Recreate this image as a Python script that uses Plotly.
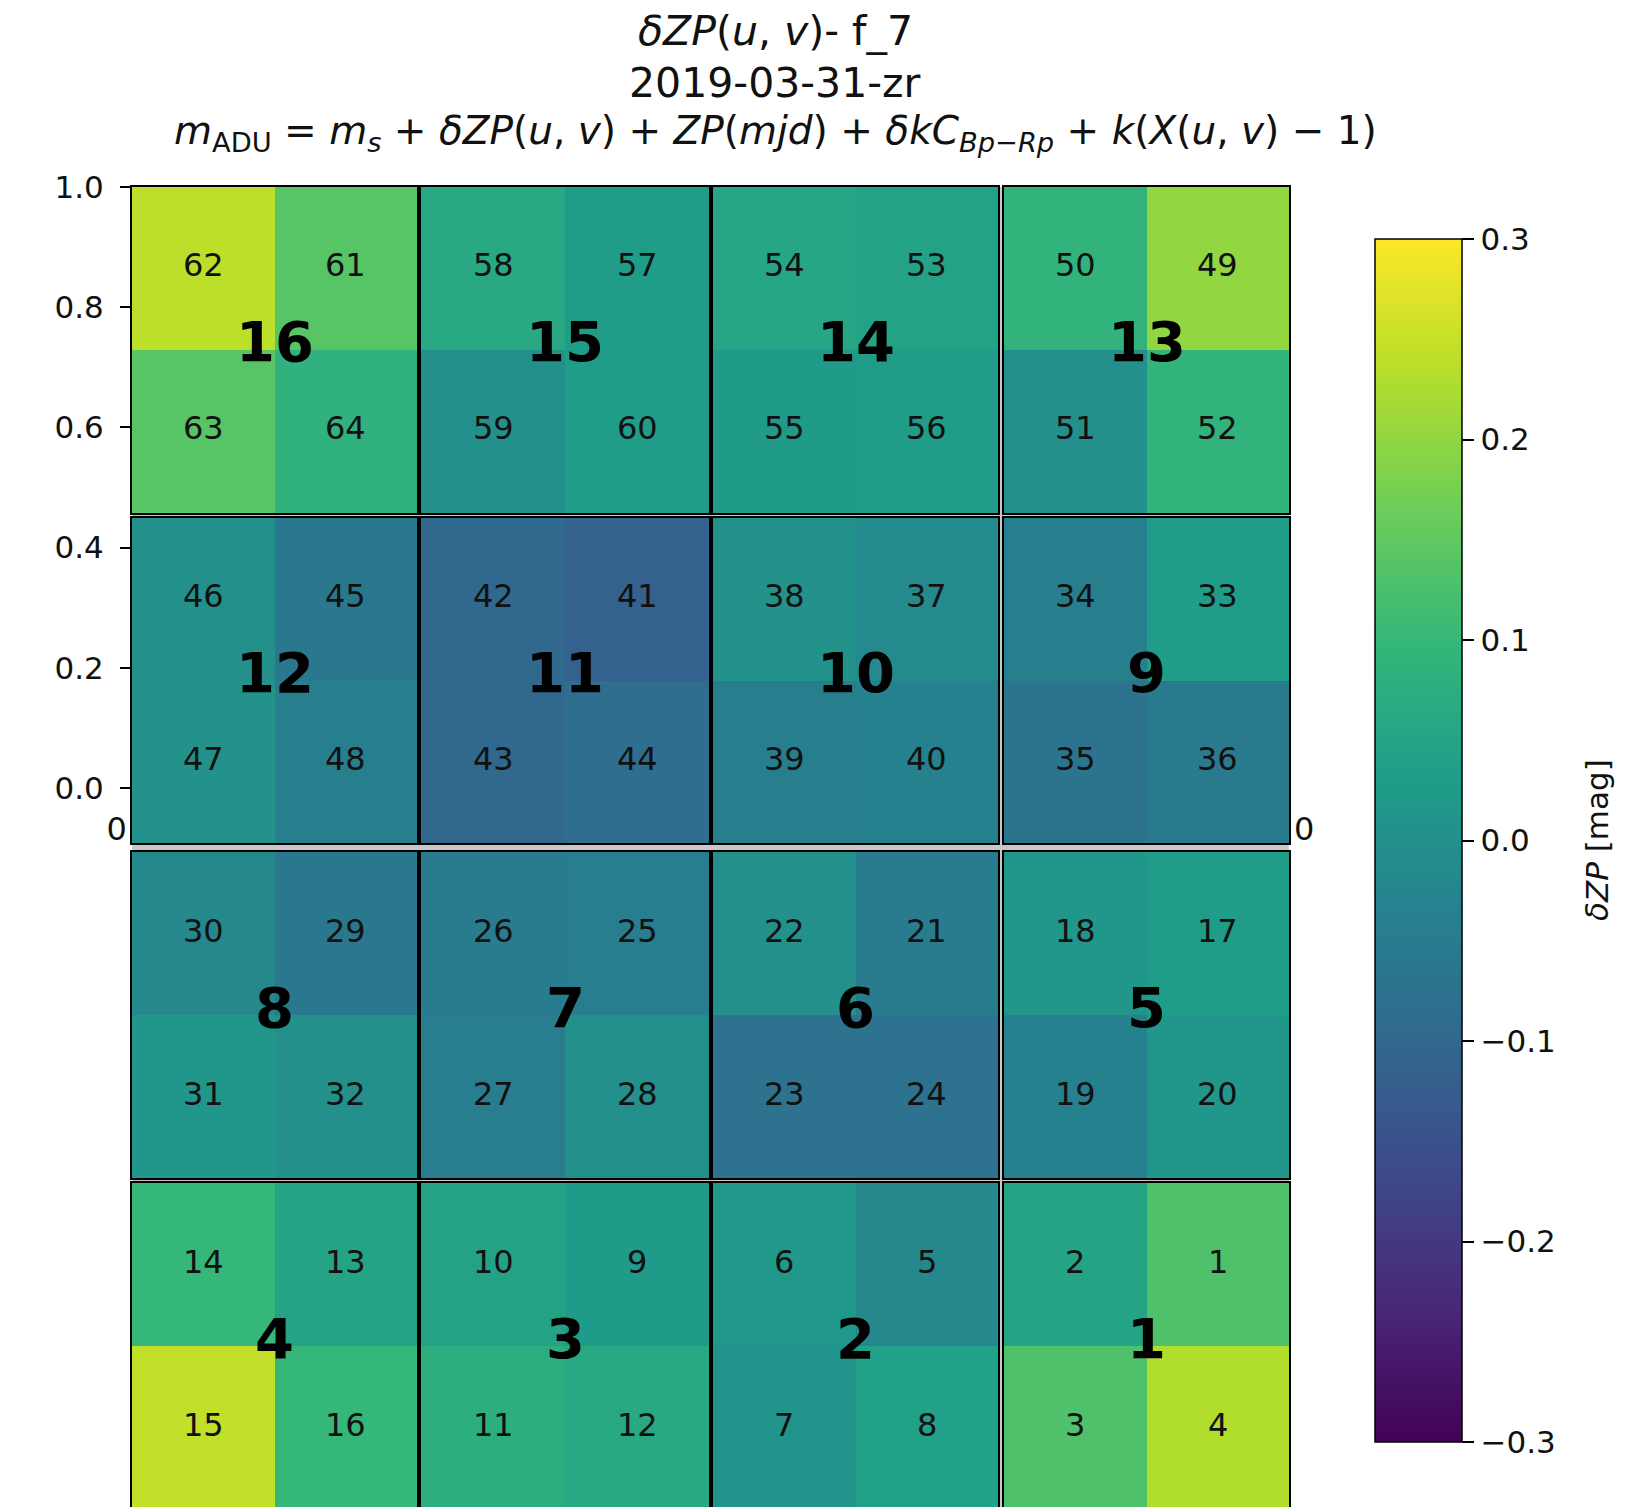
import plotly.graph_objects as go

# ---------------- data ----------------
# CCD layout on the focal plane (top row first, left to right)
ccd_grid = [[16, 15, 14, 13],
            [12, 11, 10, 9],
            [8, 7, 6, 5],
            [4, 3, 2, 1]]

# amplifier (quadrant) numbering inside CCD n: amp = 4*(n-1) + offset
quad_offset = {"TR": 1, "TL": 2, "BL": 3, "BR": 4}

# delta ZP per amplifier (amp 1 .. 64), mag
delta_zp = [
    0.13, 0.05, 0.13, 0.23,       # 1-4
    -0.02, 0.02, 0.01, 0.04,      # 5-8
    0.025, 0.045, 0.075, 0.06,    # 9-12
    0.05, 0.10, 0.245, 0.10,      # 13-16
    0.03, 0.015, -0.035, 0.015,   # 17-20
    -0.05, 0.0, -0.075, -0.075,   # 21-24
    -0.045, -0.05, -0.045, 0.0,   # 25-28
    -0.06, -0.02, 0.015, 0.0,     # 29-32
    0.03, -0.04, -0.07, -0.055,   # 33-36
    -0.015, 0.005, -0.04, -0.035, # 37-40
    -0.115, -0.10, -0.10, -0.085, # 41-44
    -0.06, 0.0, 0.005, -0.04,     # 45-48
    0.20, 0.09, 0.0, 0.09,        # 49-52
    0.045, 0.055, 0.025, 0.03,    # 53-56
    0.03, 0.06, 0.0, 0.03,        # 57-60
    0.14, 0.24, 0.14, 0.085,      # 61-64
]

axis_ticks = [0.0, 0.2, 0.4, 0.6, 0.8, 1.0]
axis_ticktext = ["0.0", "0.2", "0.4", "0.6", "0.8", "1.0"]
cbar_ticks = [-0.3, -0.2, -0.1, 0.0, 0.1, 0.2, 0.3]
cbar_ticktext = ["\u22120.3", "\u22120.2", "\u22120.1", "0.0", "0.1", "0.2", "0.3"]

title_lines = [
    "<i>δZP</i>(<i>u</i>, <i>v</i>)- f_7",
    "2019-03-31-zr",
    "<i>m</i><sub>ADU</sub> = <i>m<sub>s</sub></i> + <i>δZP</i>(<i>u</i>, <i>v</i>) + "
    "<i>ZP</i>(<i>mjd</i>) + <i>δkC<sub>Bp\u2212Rp</sub></i> + <i>k</i>(<i>X</i>(<i>u</i>, <i>v</i>) \u2212 1)",
]
title_sizes = [41, 41, 39]
cbar_title = "<i>δZP</i> [mag]"

# ---------------- layout geometry ----------------
W, H = 1630, 1507
FONT = "DejaVu Sans"


def fx(px):
    return px / W


def fy(py):
    return 1 - py / H


col_px = [(132, 417), (421, 709), (713, 998), (1004, 1289)]
row_px = [(187, 513), (518, 843), (852, 1178), (1183, 1509)]

fig = go.Figure()
layout = dict(
    width=W, height=H, autosize=False,
    margin=dict(l=0, r=0, t=0, b=0, pad=0, autoexpand=False),
    paper_bgcolor="white", plot_bgcolor="rgba(0,0,0,0)",
    font=dict(family=FONT, color="black", size=30),
    showlegend=False,
)

# base axes (only its y ticks and the edges of its x tick labels stay visible)
fig.add_trace(go.Scatter(x=[None], y=[None], xaxis="x", yaxis="y",
                         mode="markers", hoverinfo="skip"))
layout["xaxis"] = dict(domain=[fx(132), fx(1289)], range=[0, 1],
                       anchor="free", position=fy(790),
                       tickvals=axis_ticks, ticktext=axis_ticktext,
                       ticks="outside", ticklen=11, tickwidth=2, tickcolor="black",
                       tickfont=dict(size=32, family=FONT, color="#111"),
                       showline=False, showgrid=False, zeroline=False, fixedrange=True)
layout["yaxis"] = dict(domain=[fy(788), fy(187)], range=[0, 1],
                       tickvals=axis_ticks, ticktext=axis_ticktext,
                       ticks="outside", ticklen=11, tickwidth=2, tickcolor="black",
                       tickfont=dict(size=31, family=FONT, color="#111"),
                       ticklabelstandoff=10,
                       showline=False, showgrid=False, zeroline=False, fixedrange=True)

annotations = []
k = 1
first = True
for r, row in enumerate(ccd_grid):
    for c, ccd in enumerate(row):
        k += 1
        x0, x1 = col_px[c]
        y0, y1 = row_px[r]
        h = y1 - y0
        y1c = min(y1, H)
        ybot = 2 * (y1 - y1c) / h
        amp = {q: 4 * (ccd - 1) + o for q, o in quad_offset.items()}
        z = [[delta_zp[amp["BL"] - 1], delta_zp[amp["BR"] - 1]],
             [delta_zp[amp["TL"] - 1], delta_zp[amp["TR"] - 1]]]
        hm = go.Heatmap(
            z=z, x=[0.5, 1.5], y=[0.5, 1.5],
            xaxis=f"x{k}", yaxis=f"y{k}",
            colorscale="Viridis", zmin=-0.3, zmax=0.3,
            showscale=first, hoverinfo="z",
        )
        if first:
            hm.colorbar = dict(
                thicknessmode="pixels", thickness=87,
                lenmode="pixels", len=1203,
                x=fx(1375), xanchor="left", y=fy(840.5), yanchor="middle",
                xpad=0, ypad=0,
                outlinewidth=1.5, outlinecolor="black",
                tickvals=cbar_ticks, ticktext=cbar_ticktext,
                ticks="outside", ticklen=12, tickwidth=2, tickcolor="black",
                tickfont=dict(size=31, family=FONT, color="#111"),
            )
            first = False
        fig.add_trace(hm)
        layout[f"xaxis{k}"] = dict(
            domain=[fx(x0), fx(x1)], range=[0, 2],
            showticklabels=False, ticks="", showgrid=False, zeroline=False,
            showline=True, linecolor="black", linewidth=2,
            mirror=(y1 <= H), side="top", fixedrange=True, anchor=f"y{k}")
        layout[f"yaxis{k}"] = dict(
            domain=[fy(y1c), fy(y0)], range=[ybot, 2],
            showticklabels=False, ticks="", showgrid=False, zeroline=False,
            showline=True, linecolor="black", linewidth=2, mirror=True,
            fixedrange=True, anchor=f"x{k}")
        # quadrant labels
        for q, (qx, qy) in {"TL": (0.5, 1.5), "TR": (1.5, 1.5),
                            "BL": (0.5, 0.5), "BR": (1.5, 0.5)}.items():
            annotations.append(dict(
                x=qx, y=qy, xref=f"x{k}", yref=f"y{k}", text=str(amp[q]),
                showarrow=False, yshift=3,
                font=dict(size=32, family=FONT, color="#111")))
        # CCD label
        annotations.append(dict(
            x=1, y=1, xref=f"x{k}", yref=f"y{k}", text=f"<b>{ccd}</b>",
            showarrow=False, yshift=8,
            font=dict(size=56, family=FONT, color="black")))

# titles
for text, ypx, fs in zip(title_lines, [31, 83, 133], title_sizes):
    annotations.append(dict(
        x=fx(775), y=fy(ypx), xref="paper", yref="paper", text=text,
        showarrow=False, xanchor="center", yanchor="middle",
        font=dict(size=fs, family=FONT, color="#111")))

# colorbar label
annotations.append(dict(
    x=fx(1597), y=fy(840), xref="paper", yref="paper", text=cbar_title,
    showarrow=False, textangle=-90, xanchor="center", yanchor="middle",
    font=dict(size=31, family=FONT, color="#111")))

layout["annotations"] = annotations
layout["shapes"] = [dict(type="rect", xref="paper", yref="paper",
                         x0=fx(132), x1=fx(1289), y0=0, y1=fy(187),
                         fillcolor="#c8c8c8", line=dict(width=0), layer="below")]

fig.update_layout(**layout)
fig.write_html("out.html",
               config={"displayModeBar": False},
               post_script="document.body.style.margin='0';"
                           "document.body.style.overflow='hidden';")
